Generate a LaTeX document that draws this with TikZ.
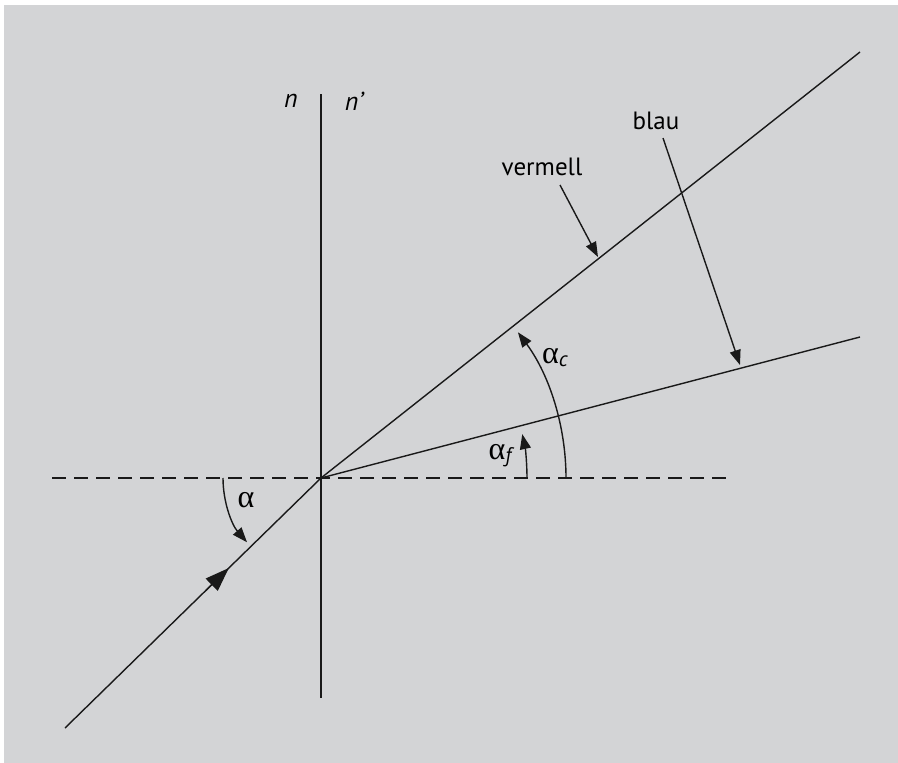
\documentclass[tikz,border=0pt]{standalone}
\usepackage{fontspec}
\setmainfont{PT Sans}
\newfontfamily\grk{Liberation Serif}
\usetikzlibrary{arrows.meta,calc}
\definecolor{bggray}{RGB}{211,212,214}
\newcommand{\al}{{\grk\fontsize{32}{34}\selectfont α}}
\newcommand{\alsub}[1]{\al\raisebox{-0.3em}{\fontsize{21}{24}\selectfont\itshape #1}}
\begin{document}
\begin{tikzpicture}[x=1pt,y=-1pt,
  ln/.style={line width=1.4pt,black!90},
  tip/.style={-{Triangle[length=15pt,width=11pt]}},
  lbl/.style={font=\fontsize{25}{30}\selectfont, inner sep=0pt},
  ilbl/.style={font=\fontsize{26}{30}\selectfont\itshape, inner sep=0pt}]
\useasboundingbox (0,0) rectangle (898,763);
\fill[white] (0,0) rectangle (898,763);
\fill[bggray] (4,5) rectangle (898,763);
% coordinates
\coordinate (C) at (321,478);
\coordinate (nt) at (321,94);
\coordinate (nb) at (321,698);
\coordinate (dl) at (52,478);
\coordinate (dr) at (730,478);
\coordinate (R) at (860,52);
\coordinate (B) at (860,337);
\coordinate (I) at (65,728);
% lines
\draw[ln] (nt) -- (nb);
\draw[ln, dash pattern=on 14pt off 8pt] (dl) -- (dr);
\draw[ln] (I) -- (C);
\draw[ln] (C) -- (R);
\draw[ln] (C) -- (B);
% incident arrow head
\draw[ln, -{Triangle[length=24pt,width=17pt]}] ($(I)!0.55!(C)$) -- ($(I)!0.64!(C)$);
% angle arcs
\draw[ln, tip] ($(C)+(180:98)$) arc[start angle=180, end angle=139, radius=98];
\draw[ln, tip] ($(C)+(0:245)$) arc[start angle=0, end angle=-36.5, radius=245];
\draw[ln, tip] ($(C)+(0:206)$) arc[start angle=0, end angle=-12.3, radius=206];
% labels
\node[ilbl] (n) at (291,101) {n};
\node[ilbl] (np) at (354,101) {n'};
\node[lbl] (verm) at (542,167) {vermell};
\node[lbl] (blau) at (656,121) {blau};
\coordinate (vt) at (598,257);
\coordinate (bt) at (740,365);
\draw[ln, tip] (560,185) -- (vt);
\draw[ln, tip] (663,138) -- (bt);
\node[inner sep=0pt] (la) at (246,500) {\al};
\node[inner sep=0pt] (lac) at (555,358) {\alsub{c}};
\node[inner sep=0pt] (laf) at (500,456) {\alsub{f}};
\end{tikzpicture}
\end{document}
